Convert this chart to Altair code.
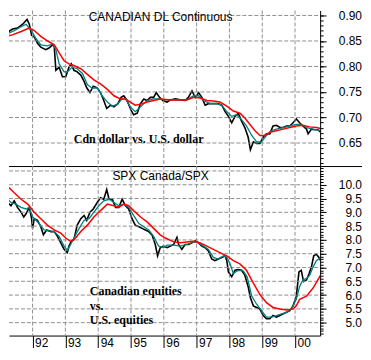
import altair as alt
import pandas as pd
import numpy as np

# ---------------- data ----------------
# Canadian dollar (top panel)
cad_years = [1991.04, 1991.14, 1991.24, 1991.39, 1991.54, 1991.70, 1991.83, 1991.90, 1991.97,
             1992.05, 1992.15, 1992.25, 1992.40, 1992.50, 1992.61, 1992.66, 1992.71, 1992.81,
             1992.91, 1993.01, 1993.11, 1993.18, 1993.26, 1993.36, 1993.47, 1993.57, 1993.65,
             1993.75, 1993.85, 1993.97, 1994.07, 1994.17, 1994.26, 1994.38, 1994.48, 1994.60,
             1994.70, 1994.78, 1994.88, 1995.00, 1995.08, 1995.19, 1995.29, 1995.39, 1995.49,
             1995.59, 1995.69, 1995.77, 1995.87, 1995.97, 1996.10, 1996.20, 1996.35, 1996.50,
             1996.65, 1996.75, 1996.86, 1996.96, 1997.06, 1997.16, 1997.26, 1997.36, 1997.51,
             1997.66, 1997.77, 1997.87, 1997.97, 1998.07, 1998.17, 1998.27, 1998.37, 1998.47,
             1998.57, 1998.64, 1998.73, 1998.83, 1998.93, 1999.03, 1999.13, 1999.23, 1999.33,
             1999.43, 1999.54, 1999.64, 1999.74, 1999.84, 1999.94, 2000.04, 2000.14, 2000.24,
             2000.35, 2000.40, 2000.50, 2000.60, 2000.70, 2000.78]
cad_close = [0.8610, 0.8654, 0.8672, 0.8735, 0.8753, 0.8828, 0.8922, 0.8828, 0.8610,
             0.8579, 0.8454, 0.8380, 0.8330, 0.8361, 0.8423, 0.8392, 0.7925, 0.7987,
             0.7800, 0.7800, 0.7987, 0.8050, 0.7925, 0.7894, 0.7831, 0.7707, 0.7582,
             0.7489, 0.7613, 0.7582, 0.7489, 0.7333, 0.7177, 0.7240, 0.7208, 0.7271,
             0.7395, 0.7426, 0.7333, 0.7146, 0.7053, 0.7084, 0.7271, 0.7364, 0.7333,
             0.7395, 0.7395, 0.7489, 0.7395, 0.7333, 0.7302, 0.7345, 0.7364, 0.7345,
             0.7333, 0.7395, 0.7520, 0.7395, 0.7489, 0.7395, 0.7240, 0.7271, 0.7271,
             0.7271, 0.7240, 0.7115, 0.7022, 0.6897, 0.7022, 0.7084, 0.6928, 0.6803,
             0.6617, 0.6367, 0.6523, 0.6492, 0.6492, 0.6617, 0.6679, 0.6679, 0.6834,
             0.6847, 0.6803, 0.6803, 0.6834, 0.6834, 0.6897, 0.6972, 0.6897, 0.6834,
             0.6772, 0.6679, 0.6772, 0.6760, 0.6760, 0.6710]

cad_short_years = [1991.04, 1991.24, 1991.44, 1991.65, 1991.80, 1991.95, 1992.10, 1992.25, 1992.45,
                   1992.61, 1992.71, 1992.81, 1992.96, 1993.06, 1993.21, 1993.36, 1993.52, 1993.67,
                   1993.82, 1993.97, 1994.12, 1994.28, 1994.43, 1994.58, 1994.73, 1994.83, 1994.98,
                   1995.13, 1995.29, 1995.49, 1995.69, 1995.89, 1996.05, 1996.30, 1996.70, 1996.91,
                   1997.06, 1997.21, 1997.41, 1997.61, 1997.77, 1997.92, 1998.07, 1998.22, 1998.37,
                   1998.52, 1998.68, 1998.83, 1998.98, 1999.13, 1999.28, 1999.43, 1999.64, 1999.84,
                   2000.04, 2000.19, 2000.35, 2000.55, 2000.78]
cad_short = [0.8610, 0.8641, 0.8704, 0.8778, 0.8828, 0.8716, 0.8548, 0.8423, 0.8405,
             0.8442, 0.8330, 0.8050, 0.7894, 0.7894, 0.7987, 0.7956, 0.7863, 0.7645,
             0.7570, 0.7582, 0.7426, 0.7302, 0.7221, 0.7258, 0.7364, 0.7364, 0.7208,
             0.7115, 0.7208, 0.7333, 0.7364, 0.7364, 0.7352, 0.7345, 0.7345, 0.7426,
             0.7426, 0.7333, 0.7271, 0.7271, 0.7240, 0.7115, 0.7022, 0.7053, 0.6959,
             0.6834, 0.6648, 0.6523, 0.6523, 0.6648, 0.6741, 0.6772, 0.6803, 0.6834,
             0.6866, 0.6866, 0.6803, 0.6772, 0.6741]

cad_long_years = [1991.04, 1991.34, 1991.65, 1991.90, 1992.05, 1992.25, 1992.45, 1992.66, 1992.81,
                  1992.96, 1993.11, 1993.26, 1993.47, 1993.67, 1993.87, 1994.07, 1994.28, 1994.48,
                  1994.68, 1994.83, 1994.98, 1995.13, 1995.29, 1995.49, 1995.69, 1995.89, 1996.20,
                  1996.50, 1996.70, 1996.91, 1997.11, 1997.31, 1997.51, 1997.71, 1997.92, 1998.12,
                  1998.32, 1998.47, 1998.62, 1998.78, 1998.93, 1999.08, 1999.23, 1999.43, 1999.64,
                  1999.84, 2000.04, 2000.24, 2000.45, 2000.65, 2000.78]
cad_long = [0.8579, 0.8610, 0.8685, 0.8753, 0.8704, 0.8591, 0.8504, 0.8423, 0.8268,
            0.8112, 0.8050, 0.8018, 0.7956, 0.7844, 0.7738, 0.7657, 0.7551, 0.7426,
            0.7364, 0.7364, 0.7302, 0.7240, 0.7258, 0.7302, 0.7333, 0.7364, 0.7345,
            0.7345, 0.7345, 0.7395, 0.7383, 0.7333, 0.7321, 0.7302, 0.7221, 0.7127,
            0.7084, 0.6990, 0.6866, 0.6741, 0.6648, 0.6648, 0.6710, 0.6741, 0.6772,
            0.6803, 0.6834, 0.6847, 0.6816, 0.6803, 0.6785]

# SPX Canada / SPX (bottom panel)
spx_years = [1991.04, 1991.14, 1991.24, 1991.34, 1991.44, 1991.54, 1991.65, 1991.73, 1991.80,
             1991.90, 1991.97, 1992.00, 1992.05, 1992.15, 1992.25, 1992.33, 1992.43, 1992.56,
             1992.66, 1992.76, 1992.86, 1992.96, 1993.06, 1993.11, 1993.18, 1993.26, 1993.36,
             1993.47, 1993.57, 1993.65, 1993.75, 1993.85, 1993.97, 1994.07, 1994.17, 1994.26,
             1994.33, 1994.43, 1994.53, 1994.63, 1994.73, 1994.83, 1994.93, 1995.03, 1995.13,
             1995.24, 1995.34, 1995.44, 1995.54, 1995.64, 1995.74, 1995.81, 1995.89, 1995.99,
             1996.10, 1996.20, 1996.30, 1996.40, 1996.45, 1996.55, 1996.65, 1996.75, 1996.86,
             1996.96, 1997.06, 1997.16, 1997.26, 1997.36, 1997.46, 1997.56, 1997.66, 1997.77,
             1997.87, 1997.92, 1997.97, 1998.07, 1998.17, 1998.27, 1998.37, 1998.47, 1998.57,
             1998.64, 1998.73, 1998.83, 1998.93, 1999.03, 1999.13, 1999.23, 1999.33, 1999.43,
             1999.54, 1999.64, 1999.74, 1999.84, 1999.94, 2000.04, 2000.12, 2000.19, 2000.26,
             2000.35, 2000.43, 2000.50, 2000.57, 2000.65, 2000.73, 2000.78]
spx_close = [9.590, 9.473, 9.356, 9.239, 9.414, 9.180, 9.004, 8.829, 8.946,
             9.180, 8.770, 8.419, 8.770, 8.712, 8.478, 8.185, 8.361, 8.302,
             8.302, 8.127, 7.893, 7.658, 7.541, 7.776, 7.951, 8.010, 8.536,
             8.770, 8.887, 8.712, 9.004, 9.122, 9.356, 9.531, 9.473, 9.824,
             9.473, 9.473, 9.180, 9.180, 9.473, 9.239, 9.122, 8.770, 8.536,
             8.478, 8.419, 8.361, 8.302, 8.185, 7.834, 7.424, 7.717, 7.776,
             7.717, 7.776, 7.834, 8.092, 7.834, 7.658, 7.834, 7.834, 7.893,
             7.974, 7.893, 7.776, 7.717, 7.600, 7.307, 7.249, 7.307, 7.366,
             7.424, 7.249, 6.839, 6.664, 6.898, 6.921, 6.898, 6.722, 6.313,
             5.903, 5.610, 5.552, 5.493, 5.259, 5.142, 5.142, 5.259, 5.201,
             5.259, 5.318, 5.376, 5.435, 5.610, 5.961, 6.839, 6.898, 6.488,
             6.547, 6.781, 7.015, 7.424, 7.483, 7.366, 7.249]

spx_short_years = [1991.04, 1991.19, 1991.34, 1991.49, 1991.65, 1991.80, 1991.90, 1992.00, 1992.10,
                   1992.20, 1992.35, 1992.50, 1992.66, 1992.81, 1992.96, 1993.06, 1993.16, 1993.26,
                   1993.42, 1993.57, 1993.72, 1993.87, 1994.02, 1994.17, 1994.33, 1994.48, 1994.63,
                   1994.78, 1994.93, 1995.08, 1995.24, 1995.39, 1995.54, 1995.69, 1995.84, 1995.99,
                   1996.10, 1996.30, 1996.50, 1996.70, 1996.91, 1997.06, 1997.21, 1997.36, 1997.51,
                   1997.66, 1997.82, 1997.92, 1998.02, 1998.12, 1998.27, 1998.42, 1998.54, 1998.68,
                   1998.83, 1998.98, 1999.13, 1999.28, 1999.43, 1999.59, 1999.74, 1999.89, 2000.04,
                   2000.14, 2000.24, 2000.35, 2000.45, 2000.55, 2000.65, 2000.78]
spx_short = [9.882, 9.531, 9.356, 9.297, 9.180, 9.122, 9.180, 8.829, 8.712,
             8.595, 8.361, 8.326, 8.302, 8.127, 7.776, 7.623, 7.834, 8.068,
             8.419, 8.712, 8.770, 9.004, 9.239, 9.414, 9.473, 9.356, 9.239,
             9.297, 9.180, 8.887, 8.595, 8.478, 8.361, 8.127, 7.776, 7.717,
             7.811, 7.811, 7.776, 7.834, 7.928, 7.893, 7.776, 7.658, 7.366,
             7.307, 7.424, 7.366, 7.132, 6.781, 6.898, 6.874, 6.664, 5.961,
             5.669, 5.435, 5.201, 5.201, 5.259, 5.318, 5.376, 5.493, 5.844,
             6.313, 6.547, 6.605, 6.722, 7.015, 7.249, 7.366]

spx_long_years = [1991.04, 1991.24, 1991.44, 1991.65, 1991.85, 1992.05, 1992.25, 1992.45, 1992.66,
                  1992.86, 1993.01, 1993.16, 1993.31, 1993.47, 1993.67, 1993.87, 1994.07, 1994.28,
                  1994.48, 1994.63, 1994.78, 1994.93, 1995.08, 1995.29, 1995.49, 1995.69, 1995.89,
                  1996.05, 1996.30, 1996.50, 1996.70, 1996.91, 1997.11, 1997.31, 1997.51, 1997.71,
                  1997.92, 1998.12, 1998.32, 1998.52, 1998.73, 1998.93, 1999.13, 1999.33, 1999.54,
                  1999.74, 1999.94, 2000.04, 2000.14, 2000.35, 2000.55, 2000.78]
spx_long = [10.233, 9.941, 9.707, 9.473, 9.297, 9.004, 8.770, 8.536, 8.361,
            8.244, 8.068, 7.951, 8.068, 8.302, 8.536, 8.829, 9.063, 9.297,
            9.239, 9.180, 9.297, 9.239, 9.063, 8.829, 8.653, 8.419, 8.185,
            8.068, 7.928, 7.893, 7.928, 7.951, 7.893, 7.776, 7.658, 7.541,
            7.424, 7.249, 7.132, 6.898, 6.430, 6.020, 5.727, 5.552, 5.493,
            5.458, 5.493, 5.610, 5.844, 5.961, 6.254, 6.722]

year_ticks = [1992, 1993, 1994, 1995, 1996, 1997, 1998, 1999, 2000]
cad_labels = [0.65, 0.70, 0.75, 0.80, 0.85, 0.90]
spx_labels = [5.0, 5.5, 6.0, 6.5, 7.0, 7.5, 8.0, 8.5, 9.0, 9.5, 10.0]
spx_grid = spx_labels + [10.5]
cad_minor = [round(v, 2) for v in np.arange(0.61, 0.905, 0.01)]
spx_minor = [round(v, 1) for v in np.arange(4.6, 10.65, 0.1)]

# ---------------- styling ----------------
W = 312
H_TOP = 156
H_BOT = 170
X_DOMAIN = [1991.281, 2000.765]
CAD_DOMAIN = [0.60485, 0.90977]
SPX_DOMAIN = [4.533, 10.678]
GRID = "#909090"
SANS = "Liberation Sans"
NARROW = "Liberation Sans Narrow, Liberation Sans"
SERIF = "Liberation Serif"


def x_enc(bottom):
    if bottom:
        ax = alt.Axis(values=year_ticks, labelExpr="substring(toString(datum.value), 2)",
                      grid=False, ticks=True, tickSize=12, tickColor="black", tickWidth=1,
                      domain=True, domainColor="black", domainWidth=1,
                      labelAlign="left", labelBaseline="alphabetic", labelOffset=2,
                      labelPadding=-1.5, labelFlush=False, labelOverlap=False,
                      labelFont=NARROW, labelFontSize=12, labelColor="black", title=None)
    else:
        ax = None
    return alt.X("year:Q", scale=alt.Scale(domain=X_DOMAIN, nice=False, zero=False), axis=ax)


def panel(series, domain, height, labels, fmt, minor, grid, bottom, title, title_y, notes):
    (bx, by), (tx, ty), (rx, ry) = series
    yscale = alt.Scale(domain=domain, nice=False, zero=False)
    xe = x_enc(bottom)
    lab_axis = alt.Axis(orient="right", values=labels, format=fmt, tickSize=6, tickColor="black",
                        tickWidth=1, labelAlign="right", labelBaseline="middle", labelPadding=35.5,
                        labelFont=SANS, labelFontSize=12, labelColor="black", labelFlush=False,
                        labelOverlap=False, domain=False, grid=False, title=None)
    minor_axis = alt.Axis(orient="right", values=minor, tickSize=3, tickColor="black",
                          tickWidth=1, labels=False, domain=True, domainColor="black",
                          domainWidth=1, grid=False, title=None)
    # grid lines, drawn as dashed rules from the tick lists through the scales
    vgrid = alt.Chart(pd.DataFrame({"year": year_ticks})).mark_rule(
        color=GRID, strokeWidth=1, strokeDash=[4, 2]).encode(
        x=xe, y=alt.value(0), y2=alt.value(height))
    hgrid = alt.Chart(pd.DataFrame({"g": grid})).mark_rule(
        color=GRID, strokeWidth=1, strokeDash=[4, 2]).encode(
        y=alt.Y("g:Q", scale=yscale, axis=None), x=alt.value(0), x2=alt.value(W))
    black = alt.Chart(pd.DataFrame({"year": bx, "v": by})).mark_line(
        color="black", strokeWidth=1.6, clip=True).encode(
        x=xe, y=alt.Y("v:Q", scale=yscale, axis=lab_axis))
    teal = alt.Chart(pd.DataFrame({"year": tx, "v": ty})).mark_line(
        color="#008080", strokeWidth=1.3, clip=True).encode(
        x=xe, y=alt.Y("v:Q", scale=yscale, axis=minor_axis))
    red = alt.Chart(pd.DataFrame({"year": rx, "v": ry})).mark_line(
        color="#ff0000", strokeWidth=1.5, clip=True).encode(
        x=xe, y=alt.Y("v:Q", scale=yscale, axis=None))
    layers = [black, vgrid, hgrid, teal, red]
    layers.append(alt.Chart(pd.DataFrame({"t": [title]})).mark_text(
        font=SANS, fontSize=12, color="black", align="center", baseline="alphabetic").encode(
        x=alt.value(152), y=alt.value(title_y), text="t:N"))
    for txt, nx, ny in notes:
        layers.append(alt.Chart(pd.DataFrame({"t": [txt]})).mark_text(
            font=SERIF, fontSize=12, fontWeight="bold", color="black", align="left",
            baseline="alphabetic").encode(x=alt.value(nx), y=alt.value(ny), text="t:N"))
    if not bottom:
        layers.append(alt.Chart(pd.DataFrame({"a": [0]})).mark_rule(
            color="black", strokeWidth=1).encode(
            x=alt.value(0), x2=alt.value(354), y=alt.value(height + 0.5)))
    return alt.layer(*layers).resolve_scale(y="independent").properties(width=W, height=height)


top = panel([(cad_years, cad_close), (cad_short_years, cad_short), (cad_long_years, cad_long)],
            CAD_DOMAIN, H_TOP, cad_labels, ".2f", cad_minor, cad_labels, False,
            "CANADIAN DL Continuous", 10.5,
            [("Cdn dollar vs. U.S. dollar", 65, 133)])
bottom = panel([(spx_years, spx_close), (spx_short_years, spx_short), (spx_long_years, spx_long)],
               SPX_DOMAIN, H_BOT, spx_labels, ".1f", spx_minor, spx_grid, True,
               "SPX Canada/SPX", 14,
               [("Canadian equities", 81, 129), ("vs.", 81, 144), ("U.S. equities", 81, 158)])

chart = alt.vconcat(top, bottom, spacing=0, bounds="flush").properties(
    padding={"left": 0, "top": 0, "right": 0, "bottom": 0},
    background="white",
).configure_view(strokeWidth=0)

chart.save("out.html", embed_options={"renderer": "svg", "actions": False})
